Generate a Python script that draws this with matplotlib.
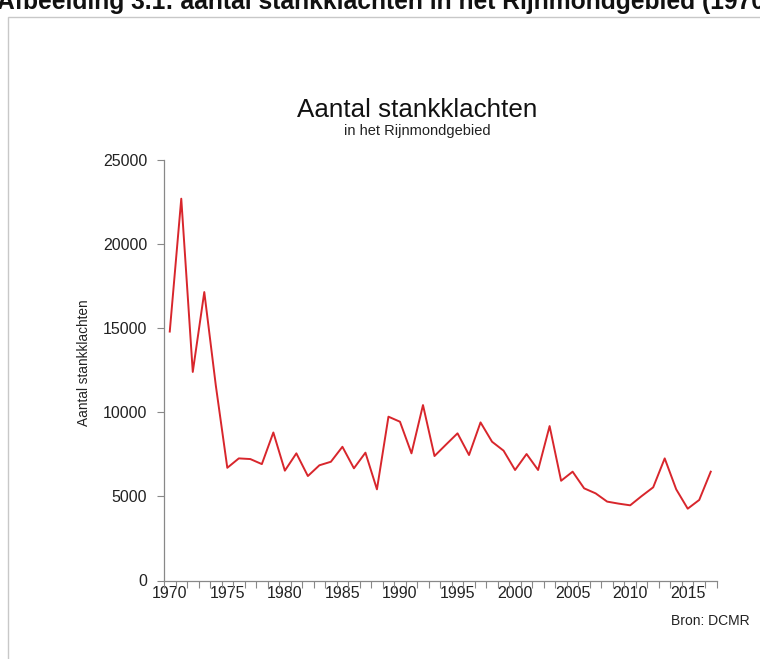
import matplotlib
matplotlib.use("Agg")
from matplotlib import pyplot as plt
from matplotlib.patches import Rectangle
from matplotlib.ticker import FixedLocator

plt.rcParams['font.family'] = ['Liberation Sans', 'DejaVu Sans']

# Aantal stankklachten per jaar
jaren = list(range(1970, 2018))
klachten = [
    14800, 22700, 12400, 17150, 11600, 6700, 7260, 7220, 6920, 8800,
    6530, 7560, 6210, 6850, 7060, 7950, 6670, 7600, 5420, 9740,
    9440, 7560, 10430, 7400, 8080, 8750, 7460, 9400, 8250, 7720,
    6570, 7520, 6570, 9180, 5930, 6470, 5480, 5180, 4690, 4570,
    4470, 5020, 5540, 7260, 5420, 4270, 4790, 6470,
]
label_jaren = [1970, 1975, 1980, 1985, 1990, 1995, 2000, 2005, 2010, 2015]
y_ticks = [0, 5000, 10000, 15000, 20000, 25000]

W, H = 760, 659
fig = plt.figure(figsize=(W / 100, H / 100), dpi=100)

# lichtgrijze kader om de grafiek heen
fig.patches.append(Rectangle((8 / W, -0.05), 1.0, 1 - 17 / H + 0.05,
                             transform=fig.transFigure, fill=False,
                             edgecolor='#c8c8c8', linewidth=1.0))

# afgesneden kop bovenaan (in het origineel valt de bovenkant weg)
fig.text(-3 / W, 1 - 9 / H,
         "Afbeelding 3.1: aantal stankklachten in het Rijnmondgebied (1970-2017)",
         fontsize=17.7, fontweight='bold', va='baseline', ha='left', color='#111111')

ax = fig.add_axes([164 / W, 1 - 580.5 / H, (716.5 - 164) / W, (580.5 - 160) / H])
ax.plot(jaren, klachten, color='#d8262c', linewidth=1.4)

ax.set_xlim(1969.5, 2017.5)
ax.set_ylim(0, 25000)
ax.set_yticks(y_ticks)
ax.set_yticklabels([str(v) for v in y_ticks], fontsize=11.5, color='#222222')
ax.set_xticks(label_jaren)
ax.set_xticklabels([str(j) for j in label_jaren], fontsize=11.5, color='#222222')
ax.xaxis.set_minor_locator(FixedLocator([1969.5 + k for k in range(49)]))

ax.tick_params(axis='x', which='major', length=0, pad=4)
ax.tick_params(axis='x', which='minor', length=5, width=0.8, color='#888888', direction='out')
ax.tick_params(axis='y', which='major', length=5, width=0.8, color='#888888', direction='out', pad=7)

for s in ['top', 'right']:
    ax.spines[s].set_visible(False)
for s in ['left', 'bottom']:
    ax.spines[s].set_color('#888888')
    ax.spines[s].set_linewidth(0.9)

fig.text(417 / W, 1 - 117 / H, "Aantal stankklachten", fontsize=18.7,
         ha='center', va='baseline', color='#111111')
fig.text(417 / W, 1 - 135 / H, "in het Rijnmondgebied", fontsize=10.5,
         ha='center', va='baseline', color='#222222')
fig.text(84 / W, 1 - 362.5 / H, "Aantal stankklachten", fontsize=9.8,
         rotation=90, ha='center', va='center', color='#222222')
fig.text(671 / W, 1 - 621 / H, "Bron: DCMR", fontsize=10,
         ha='left', va='center', color='#222222')

fig.savefig("out.png", dpi=100)
